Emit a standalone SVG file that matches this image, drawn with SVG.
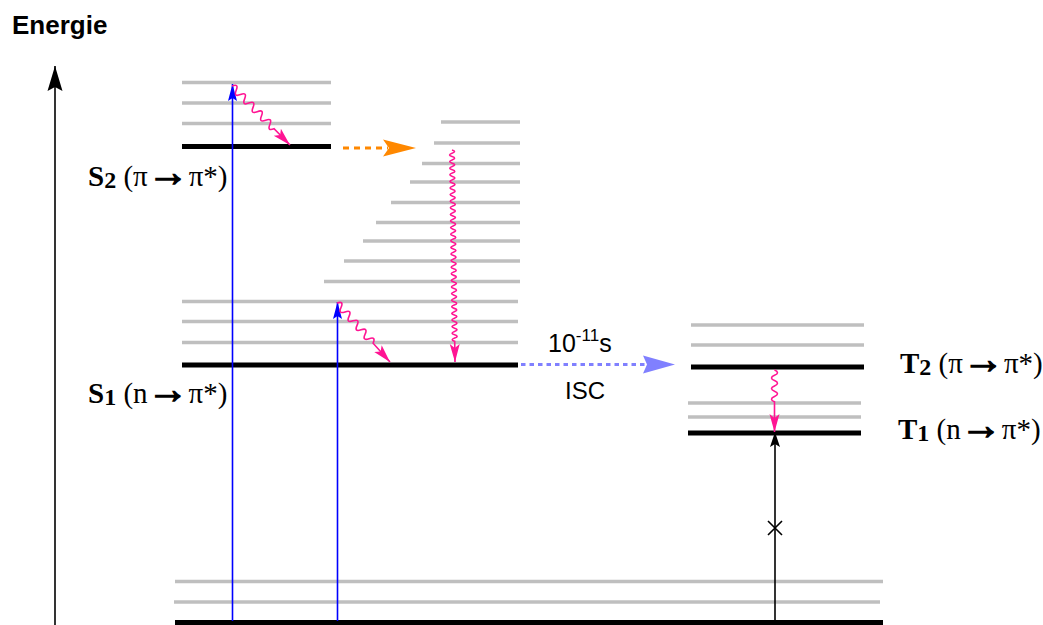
<svg xmlns="http://www.w3.org/2000/svg" width="1043" height="625" viewBox="0 0 1043 625">
<style>
.g{stroke:#bfbfbf;stroke-width:3.5;fill:none}
.k{stroke:#000;stroke-width:5;fill:none}
.lbl{font-family:"Liberation Serif",serif;font-size:29px;fill:#000}
.arr{font-size:41px;stroke:#000;stroke-width:1.4}
.sans{font-family:"Liberation Sans",Arial,sans-serif;fill:#000}
.wave{fill:none;stroke:#ff1493;stroke-width:1.6}
.blue{stroke:#0000ff;stroke-width:1.6;fill:none}
</style>
<defs>
<marker id="mPink" markerUnits="userSpaceOnUse" markerWidth="20" markerHeight="12" refX="18" refY="6" orient="auto"><path d="M0,1 L18,6 L0,11 L4,6 Z" fill="#ff1493"/></marker>
<marker id="mBlue" markerUnits="userSpaceOnUse" markerWidth="18" markerHeight="11" refX="17" refY="5.5" orient="auto"><path d="M0,1 L17,5.5 L0,10 L3,5.5 Z" fill="#0000ff"/></marker>
<marker id="mBlack" markerUnits="userSpaceOnUse" markerWidth="16" markerHeight="12" refX="15" refY="6" orient="auto"><path d="M0,1 L15,6 L0,11 L3,6 Z" fill="#000"/></marker>
<marker id="mAxis" markerUnits="userSpaceOnUse" markerWidth="26" markerHeight="16" refX="25" refY="8" orient="auto"><path d="M0,0.5 L25,8 L0,15.5 L4,8 Z" fill="#000"/></marker>
<linearGradient id="gw1" gradientUnits="userSpaceOnUse" x1="232" y1="86" x2="290" y2="145"><stop offset="0" stop-color="#ff33dd"/><stop offset="1" stop-color="#ff1493"/></linearGradient>
</defs>
<rect width="1043" height="625" fill="#fff"/>

<g id="axis-label"><text class="sans" x="12" y="34" font-size="26" font-weight="bold">Energie</text></g>

<g id="S2">
<line class="g" x1="182" y1="82.5" x2="331" y2="82.5"/>
<line class="g" x1="182" y1="103" x2="331" y2="103"/>
<line class="g" x1="182" y1="123.5" x2="331" y2="123.5"/>
<line class="k" x1="182" y1="146.5" x2="331" y2="146.5"/>
<text class="lbl" x="88" y="186"><tspan font-weight="bold">S</tspan><tspan font-weight="bold" font-size="24" dy="2">2</tspan><tspan dy="-2"> (π</tspan><tspan class="arr">→</tspan><tspan>π*)</tspan></text>
</g>

<g id="S1-vibronic">
<line class="g" x1="441" y1="122" x2="520" y2="122"/>
<line class="g" x1="434" y1="143" x2="520" y2="143"/>
<line class="g" x1="422" y1="163.5" x2="520" y2="163.5"/>
<line class="g" x1="410" y1="182" x2="520" y2="182"/>
<line class="g" x1="391" y1="202.5" x2="520" y2="202.5"/>
<line class="g" x1="376" y1="222.5" x2="520" y2="222.5"/>
<line class="g" x1="363" y1="241" x2="520" y2="241"/>
<line class="g" x1="344" y1="261" x2="520" y2="261"/>
<line class="g" x1="324" y1="281.5" x2="520" y2="281.5"/>
</g>

<g id="S1">
<line class="g" x1="182" y1="301.5" x2="518" y2="301.5"/>
<line class="g" x1="182" y1="321.5" x2="518" y2="321.5"/>
<line class="g" x1="182" y1="342.5" x2="518" y2="342.5"/>
<line class="k" x1="182" y1="365" x2="518" y2="365"/>
<text class="lbl" x="88" y="403"><tspan font-weight="bold">S</tspan><tspan font-weight="bold" font-size="24" dy="2">1</tspan><tspan dy="-2"> (n</tspan><tspan class="arr">→</tspan><tspan>π*)</tspan></text>
</g>

<g id="T2">
<line class="g" x1="691" y1="325" x2="864" y2="325"/>
<line class="g" x1="691" y1="345" x2="864" y2="345"/>
<line class="k" x1="691" y1="367" x2="864" y2="367"/>
<text class="lbl" x="900" y="373"><tspan font-weight="bold">T</tspan><tspan font-weight="bold" font-size="24" dy="2">2</tspan><tspan dy="-2"> (π</tspan><tspan class="arr">→</tspan><tspan>π*)</tspan></text>
</g>

<g id="T1">
<line class="g" x1="688" y1="403" x2="861" y2="403"/>
<line class="g" x1="688" y1="417" x2="861" y2="417"/>
<line class="k" x1="688" y1="433" x2="861" y2="433"/>
<text class="lbl" x="898" y="439"><tspan font-weight="bold">T</tspan><tspan font-weight="bold" font-size="24" dy="2">1</tspan><tspan dy="-2"> (n</tspan><tspan class="arr">→</tspan><tspan>π*)</tspan></text>
</g>

<g id="S0">
<line class="g" x1="175" y1="581.5" x2="883" y2="581.5"/>
<line class="g" x1="174" y1="602" x2="880" y2="602"/>
<line class="k" x1="175" y1="622.5" x2="883" y2="622.5"/>
</g>

<g id="connectors">
<line x1="55" y1="625" x2="55" y2="66" stroke="#000" stroke-width="1.6" marker-end="url(#mAxis)"/>
<line class="blue" x1="232.5" y1="621" x2="232.5" y2="84" marker-end="url(#mBlue)"/>
<line class="blue" x1="337.5" y1="621" x2="337.5" y2="302" marker-end="url(#mBlue)"/>
<line x1="775" y1="621" x2="775" y2="432" stroke="#000" stroke-width="1.6" marker-end="url(#mBlack)"/>
<path d="M768,521 L782,535 M782,521 L768,535" stroke="#000" stroke-width="1.6" fill="none"/>

<path class="wave" stroke="url(#gw1)" transform="translate(232,86) rotate(45.5)" d="M0,0 q3,-7 6,0 t6,0 t6,0 t6,0 t6,0 t6,0 t6,0 t6,0 t6,0 t6,0 L82.7,0" marker-end="url(#mPink)"/>
<path class="wave" transform="translate(452,150) rotate(89.19)" d="M0,0 q1.65,-5 3.3,0 t3.3,0 t3.3,0 t3.3,0 t3.3,0 t3.3,0 t3.3,0 t3.3,0 t3.3,0 t3.3,0 t3.3,0 t3.3,0 t3.3,0 t3.3,0 t3.3,0 t3.3,0 t3.3,0 t3.3,0 t3.3,0 t3.3,0 t3.3,0 t3.3,0 t3.3,0 t3.3,0 t3.3,0 t3.3,0 t3.3,0 t3.3,0 t3.3,0 t3.3,0 t3.3,0 t3.3,0 t3.3,0 t3.3,0 t3.3,0 t3.3,0 t3.3,0 t3.3,0 t3.3,0 t3.3,0 t3.3,0 t3.3,0 t3.3,0 t3.3,0 t3.3,0 t3.3,0 t3.3,0 t3.3,0 t3.3,0 t3.3,0 t3.3,0 t3.3,0 t3.3,0 t3.3,0 t3.3,0 t3.3,0 t3.3,0 t3.3,0 L212,0" marker-end="url(#mPink)"/>
<path class="wave" transform="translate(337,303) rotate(48.07)" d="M0,0 q3,-7 6,0 t6,0 t6,0 t6,0 t6,0 t6,0 t6,0 t6,0 t6,0 L79.3,0" marker-end="url(#mPink)"/>
<path class="wave" transform="translate(774.5,370) rotate(90)" d="M0,0 q2.65,-6 5.3,0 t5.3,0 t5.3,0 t5.3,0 t5.3,0 t5.3,0 L62,0" marker-end="url(#mPink)"/>

<line x1="343" y1="148" x2="388" y2="148" stroke="#ff8800" stroke-width="3" stroke-dasharray="6 5"/>
<path d="M416,148 L383,139.5 L389,148 L383,156.5 Z" fill="#ff8800"/>

<line x1="521" y1="364.5" x2="646" y2="364.5" stroke="#8080ff" stroke-width="3" stroke-dasharray="4.5 4"/>
<path d="M675,364.5 L643,355.5 L647,364.5 L643,373.5 Z" fill="#8080ff"/>
<text class="sans" x="548" y="352" font-size="25">10<tspan font-size="17" dy="-11">-11</tspan><tspan dy="11">s</tspan></text>
<text class="sans" x="565" y="399" font-size="24">ISC</text>
</g>
</svg>
